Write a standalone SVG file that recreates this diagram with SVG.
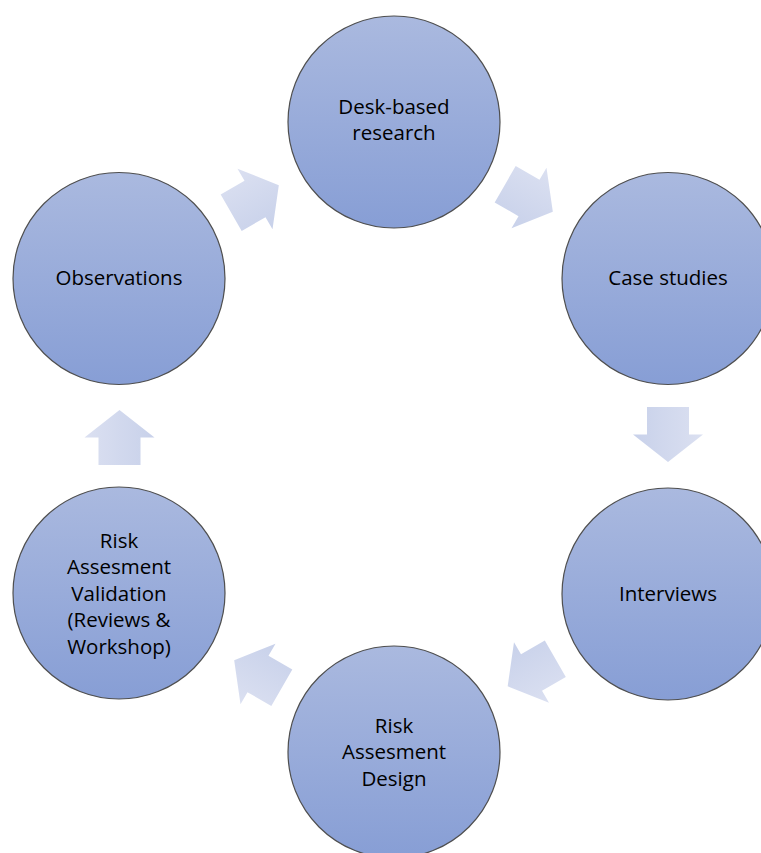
<svg xmlns="http://www.w3.org/2000/svg" width="761" height="853" viewBox="0 0 761 853">
<defs>
<linearGradient id="cg" x1="0" y1="0" x2="0" y2="1">
<stop offset="0" stop-color="#aab9df"/>
<stop offset="1" stop-color="#879ed5"/>
</linearGradient>
<linearGradient id="ag" x1="0" y1="0" x2="0" y2="1">
<stop offset="0" stop-color="#dbe0f1"/>
<stop offset="1" stop-color="#c8d1ea"/>
</linearGradient>
<path id="arr" d="M-27.5,-21 H0 V-35 L27.5,0 L0,35 V21 H-27.5 Z"/>
</defs>
<style>
.n circle{fill:url(#cg);stroke:#4f4f4f;stroke-width:1.2}
.n text{font-family:"Open Sans","Liberation Sans",Arial,sans-serif;font-size:20.5px;fill:#000;text-anchor:middle}
.c use{fill:url(#ag)}
</style>
<rect width="761" height="853" fill="#fff"/>
<g id="connectors" class="c">
<use href="#arr" transform="translate(255,199) rotate(-30)"/>
<use href="#arr" transform="translate(529,198) rotate(30)"/>
<use href="#arr" transform="translate(668,434.5) rotate(90)"/>
<use href="#arr" transform="translate(531.5,672.5) rotate(150)"/>
<use href="#arr" transform="translate(258,674) rotate(210)"/>
<use href="#arr" transform="translate(119.5,437.5) rotate(-90)"/>
</g>
<g id="desk" class="n">
<circle cx="394" cy="122" r="106"/>
<text x="394" y="114">Desk-based</text>
<text x="394" y="140">research</text>
</g>
<g id="case" class="n">
<circle cx="668" cy="278.5" r="106"/>
<text x="668" y="285">Case studies</text>
</g>
<g id="interviews" class="n">
<circle cx="668" cy="594" r="106"/>
<text x="668" y="601">Interviews</text>
</g>
<g id="design" class="n">
<circle cx="394" cy="752" r="106"/>
<text x="394" y="733">Risk</text>
<text x="394" y="759">Assesment</text>
<text x="394" y="786">Design</text>
</g>
<g id="validation" class="n">
<circle cx="119" cy="593" r="106"/>
<text x="119" y="548">Risk</text>
<text x="119" y="574">Assesment</text>
<text x="119" y="601">Validation</text>
<text x="119" y="627">(Reviews &amp;</text>
<text x="119" y="654">Workshop)</text>
</g>
<g id="observations" class="n">
<circle cx="119" cy="278.5" r="106"/>
<text x="119" y="285">Observations</text>
</g>
</svg>
